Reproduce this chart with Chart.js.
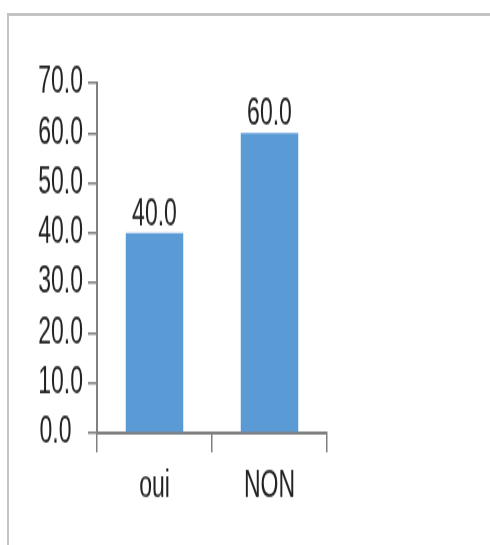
<!DOCTYPE html>
<html><head><meta charset="utf-8">
<script src="https://cdn.jsdelivr.net/npm/chart.js@4.4.1/dist/chart.umd.min.js"></script>
<style>
html,body{margin:0;padding:0;background:#fff;overflow:hidden;width:490px;height:545px;}
#frame{position:absolute;left:7px;top:13px;width:600px;height:600px;border-left:2px solid #c4c4c4;border-top:3px solid #c4c4c4;}
#wrap{position:absolute;left:0;top:0;width:490px;height:341px;transform:scaleY(1.598);transform-origin:0 0;}
</style></head><body>
<div id="frame"></div>
<div id="wrap"><canvas id="c" width="490" height="341"></canvas></div>
<script>
const categories = ['oui', 'NON'];
const values = [40.0, 60.0];
const yTicks = [0, 10, 20, 30, 40, 50, 60, 70];

const FONT = {family: '"Liberation Sans", Arial, sans-serif', size: 23};
const TEXT = '#222222';
const AXIS = '#808080';

const valueLabels = {
  id: 'valueLabels',
  afterDatasetsDraw(chart) {
    const ctx = chart.ctx;
    const meta = chart.getDatasetMeta(0);
    ctx.save();
    ctx.font = '23px "Liberation Sans", Arial, sans-serif';
    ctx.fillStyle = TEXT;
    ctx.textAlign = 'center';
    ctx.textBaseline = 'alphabetic';
    meta.data.forEach((bar, i) => {
      ctx.fillText(values[i].toFixed(1), bar.x, bar.y - 5);
    });
    ctx.restore();
  }
};

new Chart(document.getElementById('c'), {
  type: 'bar',
  data: {
    labels: categories,
    datasets: [{
      data: values,
      backgroundColor: '#5b9bd5',
      borderWidth: 0,
      categoryPercentage: 1,
      barPercentage: 0.5
    }]
  },
  plugins: [valueLabels],
  options: {
    responsive: false,
    devicePixelRatio: 1,
    animation: false,
    events: [],
    layout: {padding: {left: 0, top: 52, right: 163, bottom: 0}},
    plugins: {legend: {display: false}, tooltip: {enabled: false}},
    scales: {
      x: {
        type: 'category',
        offset: true,
        grid: {offset: true, drawOnChartArea: false, drawTicks: true, tickLength: 12, color: AXIS, lineWidth: 1.5},
        border: {color: AXIS, width: 2},
        ticks: {font: FONT, color: TEXT, padding: 8, maxRotation: 0},
        afterFit(s) { s.height = 70; }
      },
      y: {
        min: 0, max: 70,
        afterBuildTicks(s) { s.ticks = yTicks.map(v => ({value: v})); },
        grid: {drawOnChartArea: false, drawTicks: true, tickLength: 9, color: AXIS, lineWidth: 1.5},
        border: {color: AXIS, width: 2},
        ticks: {
          font: FONT, color: TEXT, padding: 5,
          callback: v => v === 0 ? v.toFixed(1) + '\u2002' : v.toFixed(1)
        },
        afterFit(s) { s.width = 97; }
      }
    }
  }
});
</script>
</body></html>
